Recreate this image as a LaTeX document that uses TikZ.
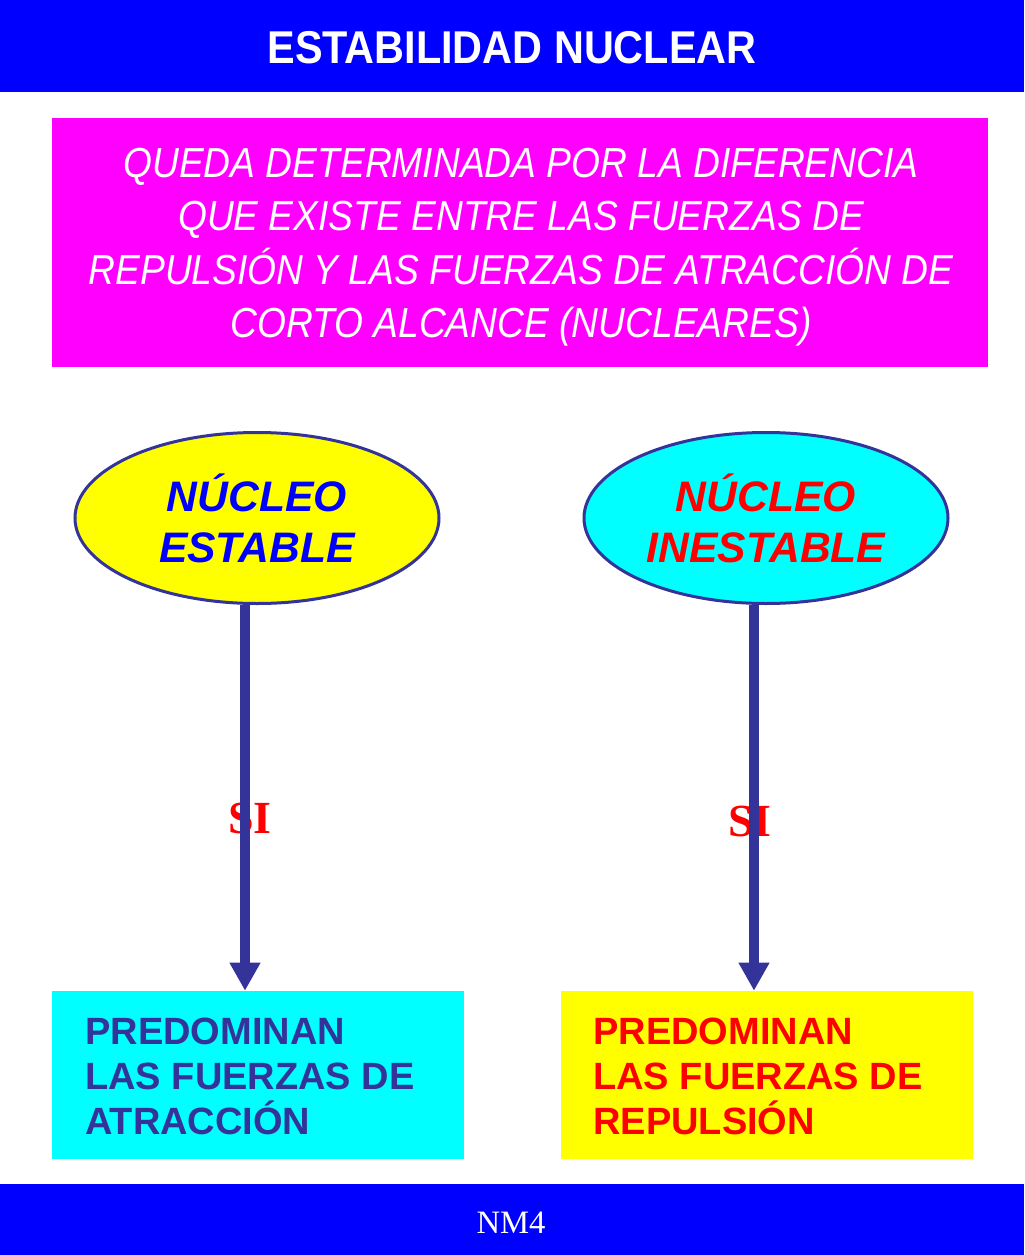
\documentclass[tikz,border=0pt]{standalone}
\usepackage{fontspec}
\usetikzlibrary{shapes.geometric,arrows.meta}
\newfontfamily\arialf{Liberation Sans}
\newfontfamily\narrowf[FakeStretch=0.885]{Liberation Sans}
\newfontfamily\titlef[FakeStretch=0.9]{Liberation Sans}
\newfontfamily\seriff{Liberation Serif}
\definecolor{barblue}{RGB}{0,0,255}
\definecolor{magbox}{RGB}{255,0,255}
\definecolor{yelbox}{RGB}{255,255,0}
\definecolor{cyabox}{RGB}{0,255,255}
\definecolor{navyline}{RGB}{51,51,153}
\definecolor{redtext}{RGB}{255,0,0}
\definecolor{bluetext}{RGB}{0,0,255}
\tikzset{
  bar/.style={fill=barblue, draw=none, inner sep=0pt, minimum width=768pt},
  boxnode/.style={draw=none, inner sep=0pt, minimum width=309pt, minimum height=126pt},
  ellnode/.style={ellipse, draw=navyline, line width=2.25pt, inner sep=0pt,
     minimum width=273pt, minimum height=128.25pt, align=center,
     font=\arialf\bfseries\itshape\fontsize{32pt}{38.25pt}\selectfont},
  boxtext/.style={anchor=west, align=left, inner sep=0pt,
     font=\arialf\bfseries\fontsize{28.5pt}{33.75pt}\selectfont},
  silabel/.style={text=redtext, inner sep=0pt, font=\seriff\bfseries\fontsize{34.5pt}{40pt}\selectfont},
  flowarrow/.style={draw=navyline, line width=7.5pt, -{Triangle[width=21.75pt,length=21pt]}}
}
\begin{document}
\begin{tikzpicture}[x=0.75pt,y=-0.75pt]
\useasboundingbox (0,0) rectangle (1024,1255);
% top and bottom bars
\node[bar, minimum height=69pt] (topbar) at (512,46) {};
\node[text=white, inner sep=0pt, font=\titlef\bfseries\fontsize{34.5pt}{40pt}\selectfont] (title) at (512,47.5) {ESTABILIDAD NUCLEAR};
\node[bar, minimum height=53.25pt] (botbar) at (512,1219.5) {};
\node[text=white, inner sep=0pt, font=\seriff\fontsize{24.5pt}{28pt}\selectfont] (nm) at (511,1223) {NM4};
% magenta box
\node[fill=magbox, inner sep=0pt, minimum width=702pt, minimum height=186.75pt] (def) at (520,242.5) {};
\node[text=white, align=center, inner sep=0pt, font=\narrowf\itshape\fontsize{31.5pt}{40.1pt}\selectfont] (deftext) at (521,247)
  {QUEDA DETERMINADA POR LA DIFERENCIA\\QUE EXISTE ENTRE LAS FUERZAS DE\\REPULSIÓN Y LAS FUERZAS DE ATRACCIÓN DE\\CORTO ALCANCE (NUCLEARES)};
% ellipses
\node[ellnode, fill=yelbox, text=bluetext] (estable) at (257,518) {NÚCLEO\\ESTABLE};
\node[ellnode, fill=cyabox, text=redtext] (inestable) at (766,518) {NÚCLEO\\INESTABLE};
% result boxes
\node[boxnode, fill=cyabox] (atr) at (258,1075) {};
\node[boxtext, text=navyline] (atrtext) at (85,1076) {PREDOMINAN\\LAS FUERZAS DE\\ATRACCIÓN};
\node[boxnode, fill=yelbox] (rep) at (766.5,1075) {};
\node[boxtext, text=redtext] (reptext) at (593,1076) {PREDOMINAN\\LAS FUERZAS DE\\REPULSIÓN};
% SI labels
\node[silabel] (si1) at (250,818) {SI};
\node[silabel] (si2) at (750,821) {SI};
% arrows
\coordinate (ax1) at (245,0);
\coordinate (ax2) at (754,0);
\draw[flowarrow] (estable.south -| ax1) -- (atr.north -| ax1);
\draw[flowarrow] (inestable.south -| ax2) -- (rep.north -| ax2);
\end{tikzpicture}
\end{document}
